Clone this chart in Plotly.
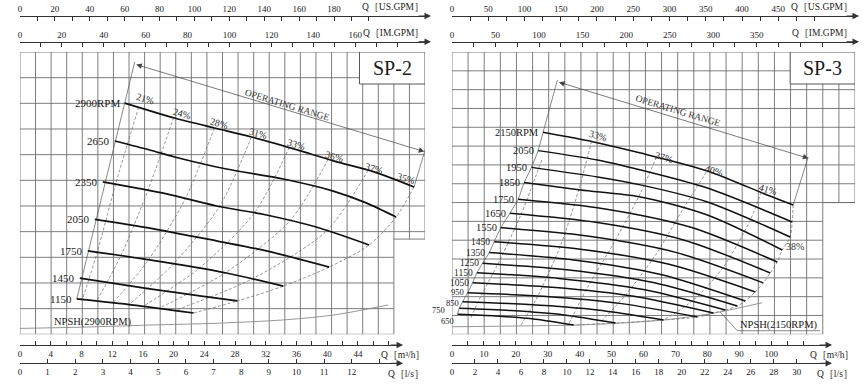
import plotly.graph_objects as go

FIG_W, FIG_H = 868, 388
SERIF = "Liberation Serif, Times New Roman, serif"
INK = "#1a1a1a"

# ====================== DATA ======================
# Flow Q in m³/h, head H in grid-row units (no head scale printed)

# ---------- SP-2 ----------
sp2_rpm_labels = ["2900RPM", "2650", "2350", "2050", "1750", "1450", "1150"]
sp2_q = [
    [13.64, 20.13, 25.32, 30.13, 36.62, 40.91, 46.10, 51.30],
    [12.34, 16.88, 20.13, 26.88, 34.29, 40.78, 45.06, 48.96],
    [10.78, 19.09, 25.58, 32.08, 38.57, 45.45],
    [9.74, 16.88, 25.58, 32.08, 40.26],
    [8.83, 16.88, 26.88, 34.29],
    [7.79, 16.88, 23.64, 28.31],
    [7.40, 14.81, 22.60],
]
sp2_h = [
    [9.01, 8.43, 8.04, 7.69, 7.14, 6.75, 6.33, 5.74],
    [7.53, 7.18, 6.91, 6.44, 6.05, 5.58, 5.12, 4.57],
    [5.94, 5.47, 5.00, 4.65, 4.18, 3.48],
    [4.48, 4.14, 3.64, 3.25, 2.62],
    [3.25, 2.90, 2.39, 1.88],
    [2.19, 1.77, 1.49, 1.30],
    [1.38, 1.14, 0.83],
]
sp2_eff_labels = ["21%", "24%", "28%", "31%", "33%", "36%", "37%", "35%"]
sp2_eff_label_q = [16.23, 21.04, 25.97, 31.04, 35.97, 40.91, 46.10, 50.26]
sp2_eff_label_h = [9.17, 8.62, 8.23, 7.81, 7.38, 6.91, 6.48, 6.09]
sp2_eff_q = [
    [15.45, 12.44, 10.05, 8.13],
    [20.00, 16.64, 13.13, 9.97],
    [25.31, 21.53, 16.73, 12.12],
    [30.13, 25.97, 19.97, 14.05],
    [35.06, 30.51, 23.31, 16.05],
    [40.12, 35.16, 26.73, 18.09],
    [45.31, 39.94, 30.23, 20.18],
    [51.30, 48.96, 45.45, 40.26, 34.29, 28.31, 22.60],
]
sp2_eff_h = [
    [8.85, 5.84, 3.19, 1.35],
    [8.44, 5.60, 3.06, 1.29],
    [8.04, 5.29, 2.90, 1.23],
    [7.69, 4.98, 2.74, 1.12],
    [7.28, 4.73, 2.57, 1.09],
    [6.82, 4.43, 2.40, 1.01],
    [6.39, 4.04, 2.16, 0.93],
    [5.74, 4.57, 3.48, 2.62, 1.88, 1.30, 0.83],
]
sp2_left_q, sp2_left_h = [14.94, 7.40], [10.61, 1.38]
sp2_right_q, sp2_right_h = [52.73, 51.30], [7.18, 5.74]
sp2_range_q, sp2_range_h = [14.94, 52.64], [10.53, 7.12]
sp2_npsh_q = [0.0, 8.31, 16.88, 25.58, 34.29, 40.78, 47.92]
sp2_npsh_h = [0.23, 0.28, 0.36, 0.43, 0.56, 0.75, 1.14]

# ---------- SP-3 ----------
sp3_rpm_labels = ["2150RPM", "2050", "1950", "1850", "1750", "1650", "1550", "1450",
                  "1350", "1250", "1150", "1050", "950", "850", "750", "650"]
sp3_q = [
    [28.53, 44.38, 59.06, 80.00, 98.75, 106.88],
    [26.97, 45.63, 59.06, 80.00, 106.56],
    [24.91, 45.63, 59.06, 80.00, 105.94],
    [22.59, 40.31, 59.06, 80.00, 103.44],
    [20.72, 47.50, 75.10, 101.88],
    [18.13, 45.04, 72.78, 99.69],
    [15.31, 42.43, 70.38, 97.50],
    [13.22, 40.21, 68.01, 95.00],
    [11.66, 38.13, 65.41, 91.88],
    [9.59, 35.92, 63.05, 89.38],
    [7.81, 33.49, 59.95, 85.63],
    [6.47, 31.36, 56.99, 81.88],
    [4.91, 28.66, 53.13, 76.88],
    [3.34, 24.10, 45.49, 66.25],
    [2.28, 18.44, 35.09, 51.25],
    [1.78, 13.78, 26.13, 38.13],
]
sp3_h = [
    [10.73, 10.22, 9.63, 8.68, 7.40, 6.87],
    [9.76, 9.26, 8.73, 7.77, 5.97],
    [8.87, 8.36, 7.94, 7.03, 5.17],
    [8.06, 7.67, 7.30, 6.34, 4.48],
    [7.17, 6.67, 5.67, 3.84],
    [6.43, 5.95, 5.00, 3.26],
    [5.66, 5.22, 4.34, 2.73],
    [4.92, 4.52, 3.72, 2.25],
    [4.34, 3.95, 3.18, 1.77],
    [3.77, 3.43, 2.75, 1.50],
    [3.27, 2.97, 2.38, 1.29],
    [2.74, 2.50, 2.02, 1.13],
    [2.21, 2.02, 1.63, 0.92],
    [1.73, 1.58, 1.29, 0.76],
    [1.38, 1.26, 1.03, 0.60],
    [1.06, 0.97, 0.80, 0.49],
]
sp3_eff_labels = ["33%", "37%", "40%", "41%", "38%"]
sp3_eff_label_q = [45.63, 66.56, 82.03, 99.06, 107.50]
sp3_eff_label_h = [10.59, 9.42, 8.73, 7.72, 4.64]
sp3_eff_label_angle = [16, 16, 16, 16, 0]
sp3_eff_q = [
    [28.13, 21.56, 14.69, 8.44, 5.94],
    [43.75, 39.69, 34.06, 26.25, 21.56],
    [64.06, 59.06, 50.31, 42.50, 36.25],
    [79.69, 72.19, 63.75, 54.38, 46.56],
    [96.88, 93.44, 85.00, 75.63, 66.25],
    [106.88, 106.56, 105.94, 103.44, 101.88, 99.69, 97.50, 95.00, 91.88, 89.38,
     85.63, 81.88, 76.88, 66.25, 51.25, 38.13],
]
sp3_eff_h = [
    [9.26, 6.34, 3.84, 1.82, 0.87],
    [10.27, 7.67, 4.74, 1.82, 0.49],
    [9.42, 7.51, 4.74, 2.51, 0.44],
    [8.62, 6.60, 4.21, 2.09, 0.65],
    [7.56, 6.07, 3.57, 1.82, 0.76],
    [6.87, 5.97, 5.17, 4.48, 3.84, 3.26, 2.73, 2.25, 1.77, 1.50,
     1.29, 1.13, 0.92, 0.76, 0.60, 0.49],
]
sp3_left_top_q, sp3_left_top_h = 33.03, 13.51
sp3_right_q, sp3_right_h = [111.56, 106.88], [9.42, 6.87]
sp3_range_q, sp3_range_h = [33.03, 111.66], [13.42, 9.35]
sp3_npsh_q = [0.0, 38.13, 51.25, 66.25, 81.88, 97.19]
sp3_npsh_h = [0.40, 0.49, 0.58, 0.76, 1.12, 1.68]
sp3_npsh_leader_q = [84.06, 89.38, 115.31]
sp3_npsh_leader_h = [1.18, 0.19, 0.19]

# ---------- axis tick labels ----------
sp2_us_labels = [0, 20, 40, 60, 80, 100, 120, 140, 160, 180]
sp2_im_labels = [0, 20, 40, 60, 80, 100, 120, 140, 160]
sp2_m3h_labels = [0, 4, 8, 12, 16, 20, 24, 28, 32, 36, 40, 44]
sp2_ls_labels = [0, 1, 2, 3, 4, 5, 6, 7, 8, 9, 10, 11, 12]
sp3_us_labels = [0, 50, 100, 150, 200, 250, 300, 350, 400, 450]
sp3_im_labels = [0, 50, 100, 150, 200, 250, 300, 350]
sp3_m3h_labels = [0, 10, 20, 30, 40, 50, 60, 70, 80, 90, 100]
sp3_ls_labels = [0, 2, 4, 6, 8, 10, 12, 14, 16, 18, 20, 22, 24, 26, 28, 30]

US_PER_M3H = 4.40287
IM_PER_M3H = 3.66615
LS_PER_M3H = 1 / 3.6

# ====================== LAYOUT GEOMETRY ======================
GRID_TOP, GRID_BOT = 52.0, 334.3


def py(p):
    return (FIG_H - p) / FIG_H


def px(p):
    return p / FIG_W


panels = [
    dict(name="SP-2", x0=18.0, ppu=7.7, right=424.0, cols=26, cols_low=24, rows=11, step=3.71,
         top_end=428.0, bot_end=400.0, box_left=358.3, box_bottom=84.0, xa="x", ya="y",
         axes=[(US_PER_M3H, sp2_us_labels, 10, 200, 16.0, "top", "Q［US.GPM］", 425, 7),
               (IM_PER_M3H, sp2_im_labels, 10, 180, 41.7, "top", "Q［IM.GPM］", 425, 33),
               (1.0, sp2_m3h_labels, 2, 48, 345.0, "bottom", "Q［m³/h］", 427, 355),
               (LS_PER_M3H, sp2_ls_labels, 1, 13, 363.3, "bottom", "Q［l/s］", 425, 374)]),
    dict(name="SP-3", x0=451.0, ppu=3.2, right=855.0, cols=25, cols_low=23, rows=15, step=7.0,
         top_end=857.0, bot_end=830.0, box_left=790.0, box_bottom=84.0, xa="x2", ya="y2",
         axes=[(US_PER_M3H, sp3_us_labels, 25, 500, 16.0, "top", "Q［US.GPM］", 855, 7),
               (IM_PER_M3H, sp3_im_labels, 25, 425, 41.7, "top", "Q［IM.GPM］", 855, 33),
               (1.0, sp3_m3h_labels, 5, 110, 345.0, "bottom", "Q［m³/h］", 857, 355),
               (LS_PER_M3H, sp3_ls_labels, 2, 30, 363.3, "bottom", "Q［l/s］", 855, 374)]),
]

fig = go.Figure()
layout = dict(width=FIG_W, height=FIG_H, margin=dict(l=0, r=0, t=0, b=0),
              paper_bgcolor="white", plot_bgcolor="rgba(0,0,0,0)", showlegend=False,
              font=dict(family=SERIF, color=INK))
annotations, shapes = [], []
axis_no = 3


def line_tr(xs, ys, xa, ya, color=INK, width=1.0, dash="solid", shape="linear"):
    return go.Scatter(x=xs, y=ys, xaxis=xa, yaxis=ya, mode="lines",
                      line=dict(color=color, width=width, dash=dash, shape=shape, smoothing=0.8),
                      hoverinfo="skip", showlegend=False)


for P in panels:
    xa, ya = P["xa"], P["ya"]
    xr = (P["right"] - P["x0"]) / P["ppu"]
    cw = xr / P["cols"]
    rowpx = (GRID_BOT - GRID_TOP) / P["rows"]
    layout["xaxis" if xa == "x" else "xaxis2"] = dict(
        domain=[px(P["x0"]), px(P["right"])], range=[0, xr], visible=False, fixedrange=True)
    layout["yaxis" if ya == "y" else "yaxis2"] = dict(
        domain=[py(GRID_BOT), py(GRID_TOP)], range=[0, P["rows"]], visible=False,
        fixedrange=True, anchor=xa)

    # grid
    gx, gy = [], []
    for i in range(P["cols"] + 1):
        y0 = 0 if i <= P["cols_low"] else P["step"]
        gx += [i * cw, i * cw, None]
        gy += [y0, P["rows"], None]
    for j in range(P["rows"] + 1):
        xe = P["cols"] if j >= P["step"] else P["cols_low"]
        gx += [0, xe * cw, None]
        gy += [j, j, None]
    gx += [P["cols_low"] * cw, P["cols"] * cw, None]
    gy += [P["step"], P["step"], None]
    fig.add_trace(line_tr(gx, gy, xa, ya, color="#6e6e6e", width=0.9))

    # label box
    bx0 = (P["box_left"] - P["x0"]) / P["ppu"]
    by0 = (GRID_BOT - P["box_bottom"]) / rowpx
    shapes.append(dict(type="rect", xref=xa, yref=ya, x0=bx0, x1=xr, y0=by0, y1=P["rows"],
                       fillcolor="white", line=dict(color="#555", width=1), layer="above"))
    annotations.append(dict(x=(bx0 + xr) / 2, y=(by0 + P["rows"]) / 2, xref=xa, yref=ya,
                            text=P["name"], showarrow=False,
                            font=dict(family=SERIF, size=20, color=INK)))

    # display axes
    for conv, labels, step, tmax, pos, side, title, tright, ty in P["axes"]:
        end = P["top_end"] if side == "top" else P["bot_end"]
        rng = (end - P["x0"]) / P["ppu"] * conv
        tvals = list(range(0, tmax + 1, step))
        ttext = [str(v) if v in labels else "" for v in tvals]
        name = f"xaxis{axis_no}"
        layout[name] = dict(domain=[px(P["x0"]), px(end)], range=[0, rng], anchor="free",
                            position=py(pos), side=side, showline=True, linecolor="#333",
                            linewidth=1, ticks="inside", ticklen=4, tickwidth=1,
                            tickcolor="#333", tickmode="array", tickvals=tvals,
                            ticktext=ttext, showgrid=False, zeroline=False, fixedrange=True,
                            tickfont=dict(family=SERIF, size=9, color=INK))
        fig.add_trace(go.Scatter(x=[0], y=[0], xaxis=f"x{axis_no}", yaxis=ya, mode="markers",
                                 marker=dict(opacity=0), hoverinfo="skip", showlegend=False))
        axis_no += 1
        annotations.append(dict(x=px(end + 2), y=py(pos), xref="paper", yref="paper",
                                ax=-14, ay=0, showarrow=True, arrowhead=2, arrowsize=1.3,
                                arrowwidth=1, arrowcolor="#333", text=""))
        annotations.append(dict(x=px(tright), y=py(ty), xref="paper", yref="paper",
                                xanchor="right", yanchor="middle", showarrow=False,
                                text=title, font=dict(family=SERIF, size=9.5, color=INK)))

# ---------- SP-2 marks ----------
for qs, hs in zip(sp2_eff_q, sp2_eff_h):
    fig.add_trace(line_tr(qs, hs, "x", "y", color="#666", width=0.7, dash="3px,2px", shape="spline"))
fig.add_trace(line_tr(sp2_npsh_q, sp2_npsh_h, "x", "y", color="#8a8a8a", width=0.9, shape="spline"))
fig.add_trace(line_tr(sp2_left_q, sp2_left_h, "x", "y", color="#555", width=0.7))
fig.add_trace(line_tr(sp2_right_q, sp2_right_h, "x", "y", color="#555", width=0.7))
for qs, hs, lab in zip(sp2_q, sp2_h, sp2_rpm_labels):
    fig.add_trace(line_tr(qs, hs, "x", "y", color="#111", width=1.7, shape="spline"))
    annotations.append(dict(x=qs[0], y=hs[0], xref="x", yref="y", xanchor="right",
                            yanchor="middle", xshift=-3, showarrow=False, text=lab,
                            font=dict(family=SERIF, size=11, color=INK)))
for lab, q, h in zip(sp2_eff_labels, sp2_eff_label_q, sp2_eff_label_h):
    annotations.append(dict(x=q, y=h, xref="x", yref="y", text=lab, showarrow=False,
                            textangle=16, font=dict(family=SERIF, size=10, color="#333")))
annotations.append(dict(x=sp2_range_q[1], y=sp2_range_h[1], ax=sp2_range_q[0],
                        ay=sp2_range_h[0], xref="x", yref="y", axref="x", ayref="y",
                        showarrow=True, arrowhead=2, arrowside="end+start", arrowsize=1.6,
                        arrowwidth=0.7, arrowcolor="#444", text=""))
annotations.append(dict(x=34.74, y=8.92, xref="x", yref="y", text="OPERATING RANGE",
                        showarrow=False, textangle=17,
                        font=dict(family=SERIF, size=9.5, color="#333")))
annotations.append(dict(x=4.16, y=0.48, xref="x", yref="y", text="NPSH(2900RPM)",
                        xanchor="left", showarrow=False,
                        font=dict(family=SERIF, size=10.5, color=INK)))

# ---------- SP-3 marks ----------
for qs, hs in zip(sp3_eff_q, sp3_eff_h):
    fig.add_trace(line_tr(qs, hs, "x2", "y2", color="#666", width=0.7, dash="3px,2px", shape="spline"))
fig.add_trace(line_tr(sp3_npsh_q, sp3_npsh_h, "x2", "y2", color="#8a8a8a", width=0.9, shape="spline"))
fig.add_trace(line_tr(sp3_npsh_leader_q, sp3_npsh_leader_h, "x2", "y2", color="#555", width=0.7))
sp3_left_q = [sp3_left_top_q] + [q[0] for q in sp3_q]
sp3_left_h = [sp3_left_top_h] + [h[0] for h in sp3_h]
fig.add_trace(line_tr(sp3_left_q, sp3_left_h, "x2", "y2", color="#555", width=0.7, shape="spline"))
fig.add_trace(line_tr(sp3_right_q, sp3_right_h, "x2", "y2", color="#555", width=0.7))
label_shift = {"950": (0, 1), "850": (0, -1), "750": (-10, -2), "650": (0, -7)}
for k, (qs, hs, lab) in enumerate(zip(sp3_q, sp3_h, sp3_rpm_labels)):
    fig.add_trace(line_tr(qs, hs, "x2", "y2", color="#111", width=1.5, shape="spline"))
    fsize = 10.5 if k < 7 else (9.5 if k < 12 else 8.5)
    dx, dy = label_shift.get(lab, (0, 0))
    annotations.append(dict(x=qs[0], y=hs[0], xref="x2", yref="y2", xanchor="right",
                            yanchor="middle", xshift=-2 + dx, yshift=dy,
                            showarrow=False, text=lab,
                            font=dict(family=SERIF, size=fsize, color=INK)))
for lab, q, h, a in zip(sp3_eff_labels, sp3_eff_label_q, sp3_eff_label_h, sp3_eff_label_angle):
    annotations.append(dict(x=q, y=h, xref="x2", yref="y2", text=lab, showarrow=False,
                            textangle=a, font=dict(family=SERIF, size=10, color="#333")))
annotations.append(dict(x=sp3_range_q[1], y=sp3_range_h[1], ax=sp3_range_q[0],
                        ay=sp3_range_h[0], xref="x2", yref="y2", axref="x2", ayref="y2",
                        showarrow=True, arrowhead=2, arrowside="end+start", arrowsize=1.6,
                        arrowwidth=0.7, arrowcolor="#444", text=""))
annotations.append(dict(x=70.94, y=11.87, xref="x2", yref="y2", text="OPERATING RANGE",
                        showarrow=False, textangle=17,
                        font=dict(family=SERIF, size=9.5, color="#333")))
annotations.append(dict(x=89.6, y=0.47, xref="x2", yref="y2", text="NPSH(2150RPM)",
                        xanchor="left", showarrow=False,
                        font=dict(family=SERIF, size=10.5, color=INK)))

layout["annotations"] = annotations
layout["shapes"] = shapes
fig.update_layout(**layout)
fig.write_html("out.html", config={"displayModeBar": False, "staticPlot": True},
               post_script="document.body.style.margin='0';document.body.style.overflow='hidden';")
